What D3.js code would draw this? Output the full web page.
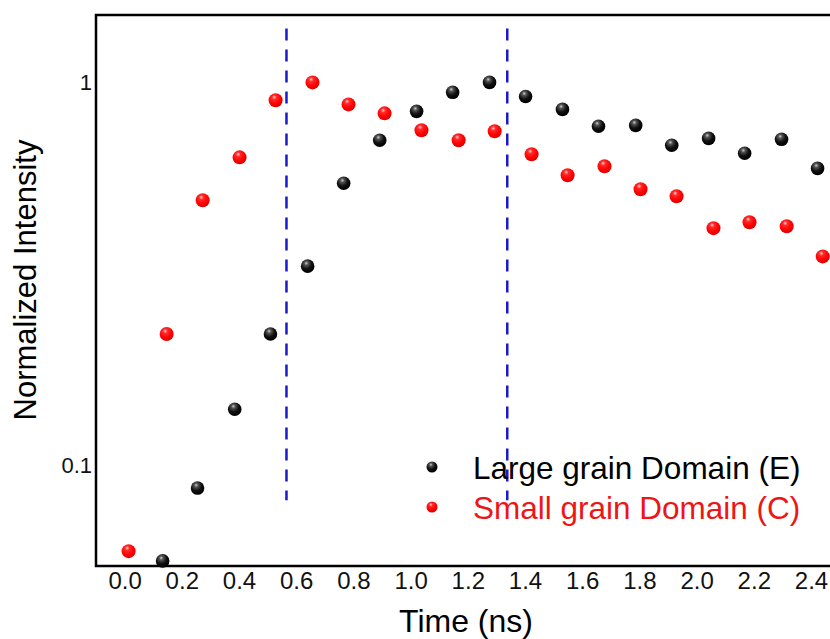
<!DOCTYPE html>
<html>

<head>
  <title>Normalized Intensity vs Time</title>
  <meta charset="utf-8">
  <style>
    body {
      padding: 0;
      margin: 0;
      background: white;
    }

    svg text {
      font-family: "Liberation Sans", Arial, sans-serif;
    }

    .frame {
      stroke: black;
      stroke-width: 2.5;
      fill: none;
    }

    .tick text {
      fill: #111;
    }

    .guide {
      stroke: #1a1acd;
      stroke-width: 2.5;
      stroke-dasharray: 12 9;
    }
  </style>
</head>

<body>
  <div id="chart"></div>

  <script src="https://d3js.org/d3.v7.min.js"></script>
  <script>
    // data
    var largeTime = [0.133, 0.255, 0.385, 0.510, 0.640, 0.766, 0.892, 1.021, 1.147, 1.276,
      1.402, 1.531, 1.657, 1.787, 1.913, 2.042, 2.168, 2.297, 2.423]
    var largeIntensity = [0.0562, 0.0871, 0.140, 0.220, 0.331, 0.545, 0.706, 0.840, 0.942, 1.0,
      0.919, 0.850, 0.768, 0.772, 0.685, 0.714, 0.653, 0.710, 0.596]

    var smallTime = [0.014, 0.147, 0.273, 0.402, 0.528, 0.657, 0.783, 0.909, 1.038, 1.168,
      1.294, 1.423, 1.549, 1.678, 1.804, 1.930, 2.059, 2.185, 2.315, 2.441]
    var smallIntensity = [0.0596, 0.220, 0.492, 0.637, 0.898, 1.0, 0.876, 0.830, 0.750, 0.706,
      0.745, 0.649, 0.572, 0.604, 0.526, 0.504, 0.416, 0.431, 0.421, 0.351]

    var xTicks = [0, 0.2, 0.4, 0.6, 0.8, 1.0, 1.2, 1.4, 1.6, 1.8, 2.0, 2.2, 2.4]
    var yTicks = [0.1, 1]
    var guideTimes = [0.566, 1.338]
    var guideRange = [0.081, 1.383]

    var seriesNames = ["Large grain Domain (E)", "Small grain Domain (C)"]
    var seriesColors = ["black", "#ee1515"]

    var width = 830,
      height = 639

    var margin = { top: 15, left: 96 }
    var plotBottom = 566

    // x runs past the right edge of the picture, like the original crop
    var x = d3.scaleLinear()
      .domain([-0.1, 2.5])
      .range([margin.left, margin.left + 2.6 * 286])

    var y = d3.scaleLog()
      .domain([0.0545, 1.5])
      .range([plotBottom, margin.top])

    var svg = d3.select("#chart")
      .append("svg")
      .attr("width", width)
      .attr("height", height)

    // sphere-like gradients for the markers
    var defs = svg.append("defs")
    var grads = [
      { id: "ballBlack", stops: [["0%", "#d0d0d0"], ["22%", "#555"], ["60%", "#111"], ["100%", "#000"]] },
      { id: "ballRed", stops: [["0%", "#ffd0d0"], ["25%", "#ff2a2a"], ["70%", "#f00"], ["100%", "#e00000"]] }
    ]
    grads.forEach(function(g) {
      var rg = defs.append("radialGradient")
        .attr("id", g.id)
        .attr("cx", "40%").attr("cy", "32%").attr("r", "65%")
        .attr("fx", "40%").attr("fy", "28%")
      g.stops.forEach(function(s) {
        rg.append("stop").attr("offset", s[0]).attr("stop-color", s[1])
      })
    })

    // frame: left, top, bottom (right side is cut off)
    svg.append("path")
      .attr("class", "frame")
      .attr("d", "M" + width + "," + margin.top + "H" + margin.left + "V" + plotBottom + "H" + width)

    // x axis labels (no tick marks)
    var xAxis = svg.append("g")
      .attr("transform", "translate(0," + plotBottom + ")")
      .call(d3.axisBottom(x).tickValues(xTicks).tickSize(0).tickPadding(6).tickFormat(d3.format(".1f")))
    xAxis.select(".domain").remove()
    xAxis.selectAll("text").style("font-size", "24px")

    // y axis labels
    var yAxis = svg.append("g")
      .attr("transform", "translate(" + margin.left + ",0)")
      .call(d3.axisLeft(y).tickValues(yTicks).tickSize(0).tickPadding(4).tickFormat(function(d) {
        return d === 1 ? "1" : "0.1"
      }))
    yAxis.select(".domain").remove()
    yAxis.selectAll("text").style("font-size", "22px")

    // axis titles
    svg.append("text")
      .attr("x", 466)
      .attr("y", 632)
      .attr("text-anchor", "middle")
      .style("font-size", "32px")
      .text("Time (ns)")

    svg.append("text")
      .attr("transform", "translate(36,280) rotate(-90)")
      .attr("text-anchor", "middle")
      .style("font-size", "31px")
      .text("Normalized Intensity")

    // dashed guide lines
    svg.append("g")
      .selectAll("line")
      .data(guideTimes)
      .enter().append("line")
      .attr("class", "guide")
      .attr("x1", function(d) { return x(d) })
      .attr("x2", function(d) { return x(d) })
      .attr("y1", y(guideRange[1]))
      .attr("y2", y(guideRange[0]))

    // points
    var large = largeTime.map(function(t, i) { return { t: t, v: largeIntensity[i] } })
    var small = smallTime.map(function(t, i) { return { t: t, v: smallIntensity[i] } })

    svg.append("g")
      .selectAll("circle")
      .data(large)
      .enter().append("circle")
      .attr("cx", function(d) { return x(d.t) })
      .attr("cy", function(d) { return y(d.v) })
      .attr("r", 6.8)
      .style("fill", "url(#ballBlack)")

    svg.append("g")
      .selectAll("circle")
      .data(small)
      .enter().append("circle")
      .attr("cx", function(d) { return x(d.t) })
      .attr("cy", function(d) { return y(d.v) })
      .attr("r", 7)
      .style("fill", "url(#ballRed)")

    // legend
    var legend = svg.append("g")
      .selectAll("g")
      .data(seriesNames)
      .enter().append("g")
      .attr("transform", function(d, i) { return "translate(432," + (467 + i * 40) + ")" })

    legend.append("circle")
      .attr("r", 5.5)
      .style("fill", function(d, i) { return i === 0 ? "url(#ballBlack)" : "url(#ballRed)" })

    legend.append("text")
      .attr("x", 41)
      .attr("y", 12)
      .style("font-size", "31.5px")
      .style("fill", function(d, i) { return seriesColors[i] })
      .text(function(d) { return d })
  </script>
</body>

</html>
